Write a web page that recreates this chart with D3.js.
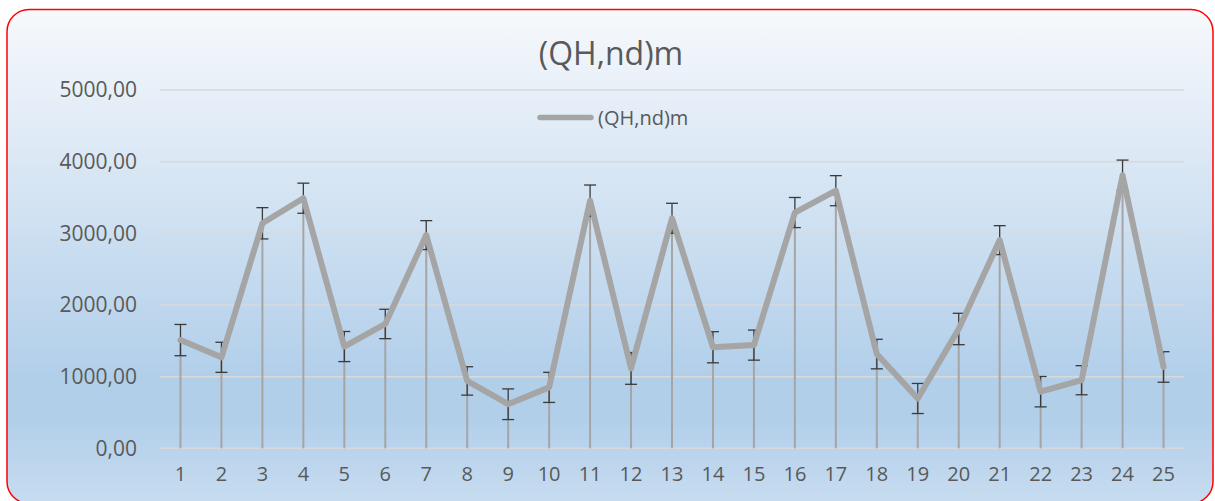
<!DOCTYPE html>
<html>
<head>
<meta charset="utf-8">
<script src="https://cdn.jsdelivr.net/npm/d3@7"></script>
<style>
    body { margin: 0; background: #fff; }
    svg text { font-family: "Open Sans", sans-serif; fill: #595959; }
</style>
</head>
<body>
<svg id="chart" width="1215" height="501"></svg>
<script>
const CATEGORIES = d3.range(1, 26).map(String);
const VALUES = [1510, 1270, 3140, 3490, 1420, 1735, 2975, 940, 615, 850,
    3455, 1115, 3210, 1410, 1440, 3290, 3595, 1315, 695, 1665,
    2905, 790, 950, 3810, 1135];
const ERRORS = [218, 210, 218, 210, 210, 205, 202, 198, 214, 210,
    219, 222, 209, 217, 210, 210, 210, 206, 210, 219,
    202, 212, 203, 212, 213];
const Y_TICKS = [0, 1000, 2000, 3000, 4000, 5000];
const SERIES_NAME = "(QH,nd)m";

var svg = d3.select("#chart");

// background + red rounded frame
var defs = svg.append("defs");
var grad = defs.append("linearGradient")
    .attr("id", "bg").attr("x1", 0).attr("y1", 0).attr("x2", 0).attr("y2", 1);
grad.append("stop").attr("offset", "0%").attr("stop-color", "#f7f9fc");
grad.append("stop").attr("offset", "74%").attr("stop-color", "#b2cfea");
grad.append("stop").attr("offset", "83%").attr("stop-color", "#b2cfea");
grad.append("stop").attr("offset", "100%").attr("stop-color", "#c7dcf0");

svg.append("rect")
    .attr("x", 7).attr("y", 9.5)
    .attr("width", 1206).attr("height", 494)
    .attr("rx", 22).attr("ry", 22)
    .attr("fill", "url(#bg)")
    .attr("stroke", "#ff0000")
    .attr("stroke-width", 1.5);

// scales
var x = d3.scaleBand()
    .domain(CATEGORIES)
    .range([160, 1184]);

var y = d3.scaleLinear()
    .domain([0, 5000])
    .range([448.3, 90]);

var cx = function(i) { return x(CATEGORIES[i]) + x.bandwidth() / 2; };

// gridlines
svg.append("g")
    .selectAll("line")
    .data(Y_TICKS)
    .enter()
    .append("line")
    .attr("x1", 160).attr("x2", 1184)
    .attr("y1", d => y(d)).attr("y2", d => y(d))
    .attr("stroke", "#d9d9d9")
    .attr("stroke-width", 1.5);

// y axis labels
var yAxis = d3.axisLeft(y)
    .tickValues(Y_TICKS)
    .tickSize(0)
    .tickPadding(0)
    .tickFormat(d => d3.format(".2f")(d).replace(".", ","));

var yg = svg.append("g")
    .attr("transform", "translate(137,0)")
    .call(yAxis);
yg.select(".domain").remove();
yg.selectAll("text")
    .style("font-size", "21px")
    .attr("fill", "#595959");

// x axis labels
var xAxis = d3.axisBottom(x).tickSize(0).tickPadding(0);
var xg = svg.append("g")
    .attr("transform", "translate(0,467)")
    .call(xAxis);
xg.select(".domain").remove();
xg.selectAll("text")
    .style("font-size", "20px")
    .attr("fill", "#595959");

// drop lines
svg.append("g")
    .selectAll("line")
    .data(VALUES)
    .enter()
    .append("line")
    .attr("x1", (d, i) => cx(i)).attr("x2", (d, i) => cx(i))
    .attr("y1", y(0)).attr("y2", d => y(d))
    .attr("stroke", "#a5a5a5")
    .attr("stroke-width", 2);

// error bars
var eb = svg.append("g")
    .attr("stroke", "#3a3a3a")
    .attr("stroke-width", 1.3);
VALUES.forEach(function(v, i) {
    var e = ERRORS[i], px = cx(i);
    eb.append("line")
        .attr("x1", px).attr("x2", px)
        .attr("y1", y(v - e)).attr("y2", y(v + e));
    [v - e, v + e].forEach(function(c) {
        eb.append("line")
            .attr("x1", px - 6).attr("x2", px + 6)
            .attr("y1", y(c)).attr("y2", y(c));
    });
});

// series line
var line = d3.line()
    .x((d, i) => cx(i))
    .y(d => y(d));

svg.append("path")
    .datum(VALUES)
    .attr("d", line)
    .attr("fill", "none")
    .attr("stroke", "#a5a5a5")
    .attr("stroke-width", 6)
    .attr("stroke-linejoin", "round")
    .attr("stroke-linecap", "round");

// title
svg.append("text")
    .attr("x", 611).attr("y", 65)
    .attr("text-anchor", "middle")
    .style("font-size", "32px")
    .text(SERIES_NAME);

// legend
svg.append("line")
    .attr("x1", 540).attr("x2", 591)
    .attr("y1", 117.5).attr("y2", 117.5)
    .attr("stroke", "#a5a5a5")
    .attr("stroke-width", 5.5)
    .attr("stroke-linecap", "round");

svg.append("text")
    .attr("x", 598).attr("y", 124.5)
    .style("font-size", "20px")
    .text(SERIES_NAME);
</script>
</body>
</html>
